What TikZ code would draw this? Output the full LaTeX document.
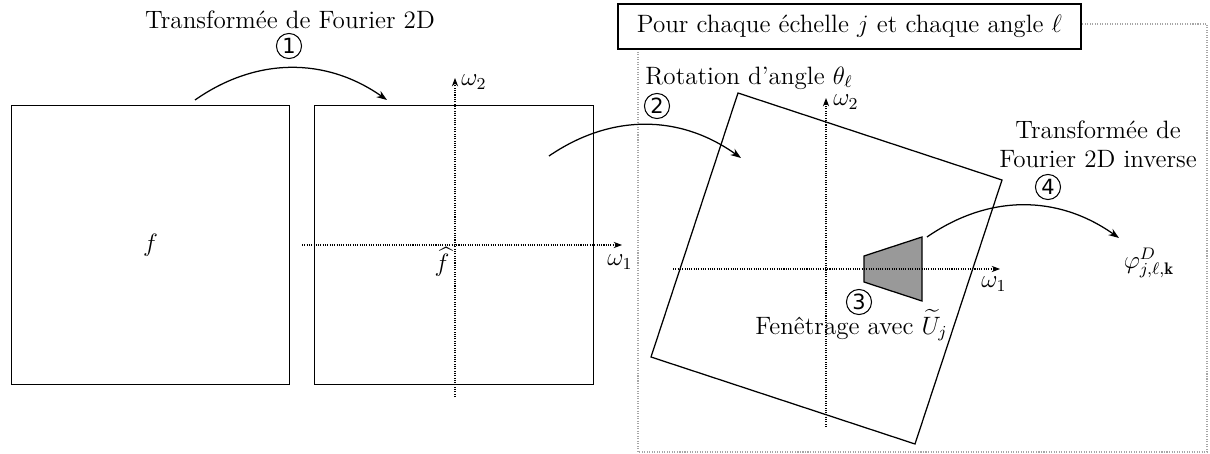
\documentclass[tikz,border=0pt]{standalone}
\usepackage{fontspec}
\usepackage{amsmath}
\newfontfamily\dejavu{DejaVu Sans}
\usetikzlibrary{arrows.meta}
\begin{document}
\begin{tikzpicture}[x=0.478pt,y=-0.478pt,
  every node/.style={font=\large},
  sq/.style={draw, line width=0.6pt, minimum width=133.1pt, minimum height=133.1pt, inner sep=0pt},
  axis/.style={line width=0.5pt, dash pattern=on 0.5pt off 0.6pt, -{Stealth[length=4pt,width=3pt]}},
  curv/.style={line width=0.6pt, -{Stealth[length=5pt,width=3.6pt]}},
  num/.style={circle, draw, line width=0.5pt, minimum size=12pt, inner sep=0pt, font=\dejavu\normalsize},
  frame/.style={gray!70, line width=0.5pt, dash pattern=on 0.5pt off 0.7pt}]
\useasboundingbox (0,0) rectangle (1210,454);
% outer dotted frame
\draw[frame] (638,24) rectangle (1207,452);
\node[draw, fill=white, line width=0.6pt, minimum width=221.3pt, minimum height=21.5pt, inner sep=0pt] (title) at (849.5,26.5) {Pour chaque échelle $j$ et chaque angle $\ell$};
% panel 1
\node[sq] (s1) at (150.5,245) {};
\node (flabel) at (s1.center) {$f$};
% panel 2
\node[sq] (s2) at (454,245) {};
\coordinate (h2l) at (302,245);
\coordinate (h2r) at (622,245);
\coordinate (v2b) at (455,397);
\coordinate (v2t) at (455,78);
\draw[axis] (h2l) -- (h2r);
\draw[axis] (v2b) -- (v2t);
\node (w2a) at (474,82) {$\omega_2$};
\node (w1a) at (620,262) {$\omega_1$};
\node (fhat) at (442,262) {$\widehat{f}$};
% panel 3 rotated square
\coordinate (r1) at (738,93);
\coordinate (r2) at (1002,180);
\coordinate (r3) at (915,444);
\coordinate (r4) at (651,357);
\draw[line width=0.6pt] (r1) -- (r2) -- (r3) -- (r4) -- cycle;
\coordinate (t1) at (864,256);
\coordinate (t2) at (922,237);
\coordinate (t3) at (922,301);
\coordinate (t4) at (864,282);
\draw[line width=0.6pt, fill=gray!80] (t1) -- (t2) -- (t3) -- (t4) -- cycle;
\coordinate (h3l) at (673,269);
\coordinate (h3r) at (1000,269);
\coordinate (v3b) at (826,427);
\coordinate (v3t) at (826,98);
\draw[axis] (h3l) -- (h3r);
\draw[axis] (v3b) -- (v3t);
\node (w2b) at (846,102) {$\omega_2$};
\node (w1b) at (994,284) {$\omega_1$};
% labels
\node (lab1) at (290,20) {Transformée de Fourier 2D};
\node[num] (n1) at (289,46) {1};
\node[anchor=west] (lab2) at (638,78) {Rotation d'angle $\theta_\ell$};
\node[num] (n2) at (657,106) {2};
\node[num] (n3) at (859,302) {3};
\node[anchor=base west] (lab3) at (748,334) {Fenêtrage avec $\widetilde{U}_j$};
\node[num] (n4) at (1048,187) {4};
\node[align=center] (lab4) at (1098,144) {Transformée de\\Fourier 2D inverse};
\node (phi) at (1149,263) {$\varphi^D_{j,\ell,\mathbf{k}}$};
% curved arrows
\coordinate (c1s) at (195,100);
\coordinate (c1e) at (387,100);
\coordinate (c2s) at (549,156);
\coordinate (c2e) at (741,158);
\coordinate (c4s) at (927,237);
\coordinate (c4e) at (1119,238);
\draw[curv] (c1s) to[bend left=35] (c1e);
\draw[curv] (c2s) to[bend left=35] (c2e);
\draw[curv] (c4s) to[bend left=35] (c4e);
\end{tikzpicture}
\end{document}
